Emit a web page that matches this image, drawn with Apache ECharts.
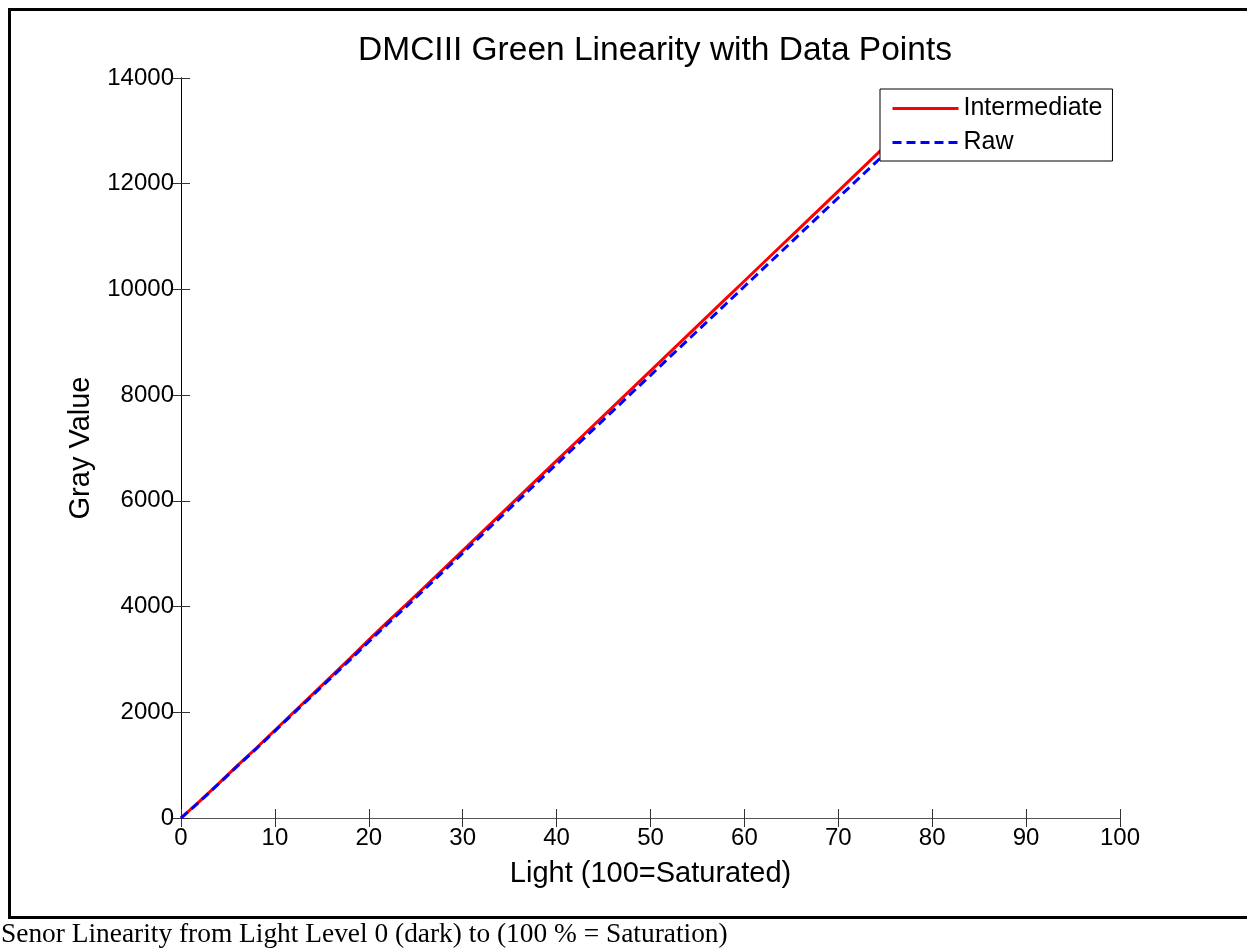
<!DOCTYPE html>
<html>
<head>
<meta charset="utf-8">
<script src="https://cdn.jsdelivr.net/npm/echarts@6/dist/echarts.min.js"></script>
<style>
html,body{margin:0;padding:0;background:#fff;}
#chart{width:1247px;height:949px;}
</style>
</head>
<body>
<div id="chart"></div>
<script>
// ---- data ----
const lightLevels = [0,2,4,6,8,10,12,14,16,18,20,22,24,26,28,30,32,34,36,38,40,42,44,46,48,50,52,54,56,58,60,62,64,66,68,70,72,74,76,78];
const intermediate = [0,320,650,990,1320,1660,2000,2340,2680,3020,3370,3710,4040,4380,4720,5060,5400,5740,6080,6420,6760,7100,7440,7780,8120,8460,8800,9140,9480,9820,10160,10500,10840,11180,11520,11860,12200,12540,12880,13220];
const raw = [0,312,643,980,1308,1645,1982,2318,2655,2992,3335,3672,4000,4338,4674,5012,5348,5685,6022,6358,6695,7030,7367,7703,8040,8375,8712,9048,9384,9720,10056,10392,10727,11063,11400,11735,12070,12405,12740,13085];
const seriesNames = ['Intermediate','Raw'];
const titleText = 'DMCIII Green Linearity with Data Points';
const xLabel = 'Light (100=Saturated)';
const yLabel = 'Gray Value';
const caption = 'Senor Linearity from Light Level 0 (dark) to (100 % = Saturation)';

const pair = (xs, ys) => xs.map((x, i) => [x, ys[i]]);
const FONT = 'Liberation Sans, Arial, sans-serif';
const plain = v => String(v);
const tick = c => ({show:true, inside:true, length:9, lineStyle:{color:c, width:1}});

const chart = echarts.init(document.getElementById('chart'), null, {renderer:'canvas'});
chart.setOption({
  backgroundColor:'#fff',
  animation:false,
  title:{
    text:titleText, left:650, top:29, textAlign:'center',
    textStyle:{fontFamily:FONT, fontSize:33.5, fontWeight:'normal', color:'#000'}
  },
  legend:{
    left:880, top:89, orient:'vertical',
    backgroundColor:'#fff', borderColor:'#000', borderWidth:1,
    padding:[7,10,6,11],
    itemWidth:66, itemHeight:14, itemGap:9,
    itemStyle:{opacity:0},
    textStyle:{fontFamily:FONT, fontSize:25, color:'#000', lineHeight:24},
    data:[
      {name:seriesNames[0], lineStyle:{width:3}},
      {name:seriesNames[1], lineStyle:{width:3}}
    ]
  },
  grid:{left:181, right:127, top:78, bottom:131},
  xAxis:[{
    type:'value', min:0, max:100, interval:10, position:'bottom',
    axisLine:{show:true, lineStyle:{color:'#000', width:1}},
    axisTick:tick('#333'),
    axisLabel:{fontFamily:FONT, fontSize:24, color:'#000', margin:8, formatter:plain},
    splitLine:{show:false},
    name:xLabel, nameLocation:'middle', nameGap:41,
    nameTextStyle:{fontFamily:FONT, fontSize:29, color:'#000'}
  },{
    type:'value', min:0, max:100, interval:10, position:'top',
    axisLine:{show:true, lineStyle:{color:'#555', width:1}},
    axisTick:tick('#333'), axisLabel:{show:false}, splitLine:{show:false}
  }],
  yAxis:[{
    type:'value', min:0, max:14000, interval:2000, position:'left',
    axisLine:{show:true, lineStyle:{color:'#666', width:1}},
    axisTick:tick('#333'),
    axisLabel:{fontFamily:FONT, fontSize:24, color:'#000', margin:7, formatter:plain},
    splitLine:{show:false},
    name:yLabel, nameLocation:'middle', nameGap:86, nameRotate:90,
    nameTextStyle:{fontFamily:FONT, fontSize:29, color:'#000'}
  },{
    type:'value', min:0, max:14000, interval:2000, position:'right',
    axisLine:{show:true, lineStyle:{color:'#000', width:1}},
    axisTick:tick('#333'), axisLabel:{show:false}, splitLine:{show:false}
  }],
  series:[{
    name:seriesNames[0], type:'line', xAxisIndex:0, yAxisIndex:0,
    data:pair(lightLevels, intermediate), symbol:'none',
    lineStyle:{color:'#ff0000', width:3, type:'solid'}, itemStyle:{color:'#ff0000'}
  },{
    name:seriesNames[1], type:'line', xAxisIndex:0, yAxisIndex:0,
    data:pair(lightLevels, raw), symbol:'none',
    lineStyle:{color:'#0000ff', width:3, type:[9,5]}, itemStyle:{color:'#0000ff'}
  }],
  graphic:[{
    type:'rect', silent:true, z:100,
    shape:{x:9.5, y:9.5, width:1300, height:908},
    style:{fill:null, stroke:'#000', lineWidth:3}
  },{
    type:'text', left:1, top:921, silent:true,
    style:{text:caption, font:'27.4px "Liberation Serif", "Times New Roman", serif', fill:'#000'}
  }]
});
</script>
</body>
</html>
